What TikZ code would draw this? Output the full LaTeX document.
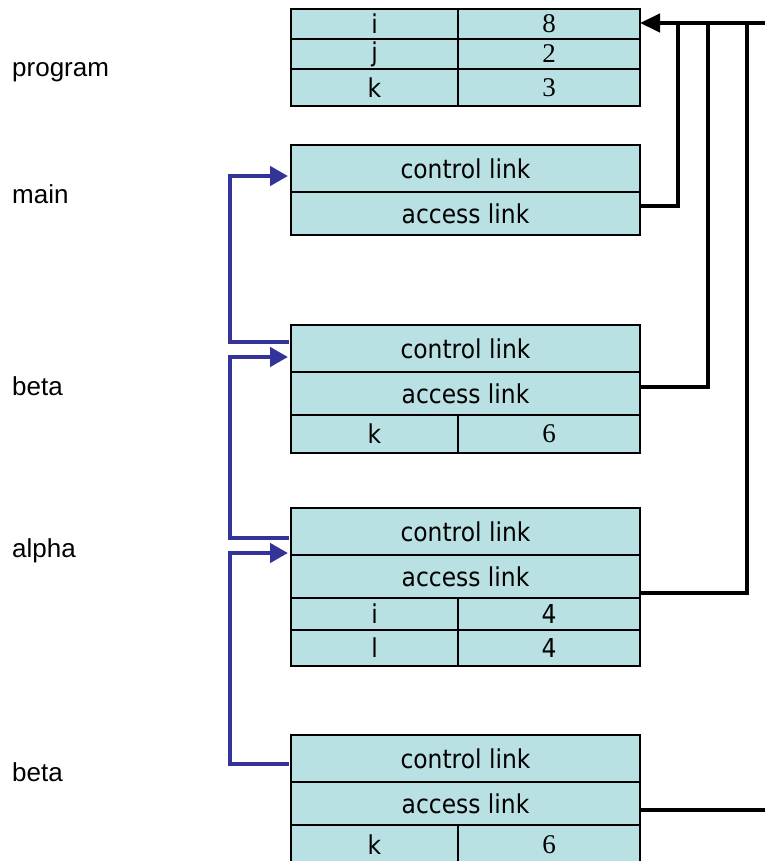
\documentclass[tikz,border=0pt]{standalone}
\usepackage{fontspec}
\setmainfont{Liberation Sans}
\newfontfamily\tah[FakeStretch=0.9]{DejaVu Sans}
\newfontfamily\tms{Liberation Serif}
\usetikzlibrary{arrows.meta,calc}
\definecolor{cellc}{RGB}{185,224,227}
\definecolor{linkblue}{RGB}{51,51,153}
\begin{document}
\begin{tikzpicture}[x=1pt,y=-1pt,
  cell/.style={draw=black, fill=cellc, line width=1.6pt, inner sep=0pt, outer sep=0pt,
    anchor=north west, font=\tah\fontsize{26}{28}\selectfont},
  wide/.style={minimum width=349pt},
  lcol/.style={minimum width=167pt},
  rcol/.style={minimum width=182pt},
  num/.style={font=\tms\fontsize{27}{28}\selectfont},
  lbl/.style={anchor=base west, inner sep=0pt, font=\fontsize{26}{28}\selectfont},
  ctl/.style={draw=linkblue, line width=4.5pt, -{Triangle[length=18pt,width=19pt]}},
  acc/.style={draw=black, line width=4.5pt}
]
\useasboundingbox (0,0) rectangle (764,861);

% labels
\node[lbl] (lprog) at (12,77) {program};
\node[lbl] (lmain) at (12,203) {main};
\node[lbl] (lbeta) at (12,395) {beta};
\node[lbl] (lalpha) at (12,557) {alpha};
\node[lbl] (lbeta2) at (12,781) {beta};

% program table
\node[cell,lcol,minimum height=30pt] (p1a) at (291,9) {i};
\node[cell,rcol,minimum height=30pt,num] (p1b) at (458,9) {8};
\node[cell,lcol,minimum height=30pt] (p2a) at (291,39) {j};
\node[cell,rcol,minimum height=30pt,num] (p2b) at (458,39) {2};
\node[cell,lcol,minimum height=37pt] (p3a) at (291,69) {k};
\node[cell,rcol,minimum height=37pt,num] (p3b) at (458,69) {3};

% main
\node[cell,wide,minimum height=47pt] (mc) at (291,145) {control link};
\node[cell,wide,minimum height=43pt] (ma) at (291,192) {access link};

% beta
\node[cell,wide,minimum height=47pt] (bc) at (291,325) {control link};
\node[cell,wide,minimum height=43pt] (ba) at (291,372) {access link};
\node[cell,lcol,minimum height=38pt] (bk) at (291,415) {k};
\node[cell,rcol,minimum height=38pt,num] (bv) at (458,415) {6};

% alpha
\node[cell,wide,minimum height=47pt] (ac) at (291,508) {control link};
\node[cell,wide,minimum height=43pt] (aa) at (291,555) {access link};
\node[cell,lcol,minimum height=32pt] (ai) at (291,598) {i};
\node[cell,rcol,minimum height=32pt] (aiv) at (458,598) {4};
\node[cell,lcol,minimum height=36pt] (al) at (291,630) {l};
\node[cell,rcol,minimum height=36pt] (alv) at (458,630) {4};

% beta 2
\node[cell,wide,minimum height=47pt] (b2c) at (291,735) {control link};
\node[cell,wide,minimum height=43pt] (b2a) at (291,782) {access link};
\node[cell,lcol,minimum height=40pt] (b2k) at (291,825) {k};
\node[cell,rcol,minimum height=40pt,num] (b2v) at (458,825) {6};

% control links (blue)
\draw[ctl] ($(bc.north west)+(-2,17)$) -- ++(-59,0) |- ($(mc.north west)+(-3,31)$);
\draw[ctl] ($(ac.north west)+(-2,30)$) -- ++(-59,0) |- ($(bc.north west)+(-3,32)$);
\draw[ctl] ($(b2c.north west)+(-2,29)$) -- ++(-59,0) |- ($(ac.north west)+(-3,45)$);

% access links (black)
\coordinate (feed) at (766,23);
\coordinate (feed2) at (766,810);
\draw[acc,-{Triangle[length=20pt,width=18pt]}] (feed) -- (p1b.east |- feed);
\draw[acc] ($(ma.north east)+(0,14)$) -| ($(p1b.east |- feed)+(38,0)$);
\draw[acc] ($(ba.north east)+(0,15)$) -| ($(p1b.east |- feed)+(68,0)$);
\draw[acc] ($(aa.north east)+(0,38)$) -| ($(p1b.east |- feed)+(107,0)$);
\draw[acc] ($(b2a.north east)+(0,28)$) -- (feed2);
\end{tikzpicture}
\end{document}
